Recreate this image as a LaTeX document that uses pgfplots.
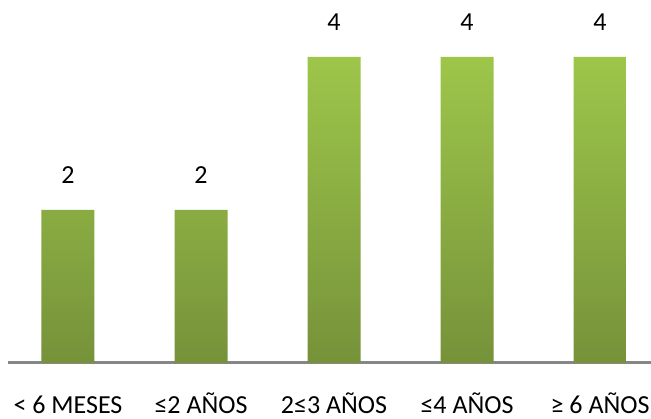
\documentclass[border=0pt]{standalone}
\usepackage{pgfplots}
\pgfplotsset{compat=1.18}
\usepackage{fontspec}
\setmainfont{Carlito}
\definecolor{bartop}{HTML}{9DC64A}
\definecolor{barbot}{HTML}{76923A}
\definecolor{axgray}{HTML}{868686}
\begin{document}
\begin{tikzpicture}[x=1pt,y=1pt]
\useasboundingbox (0,0) rectangle (651,418);
\begin{axis}[
  at={(8pt,55pt)}, anchor=south west,
  scale only axis,
  width=643pt, height=363pt,
  xmin=-0.451, xmax=4.383,
  ymin=0, ymax=4.745,
  ybar, bar width=53pt,
  axis x line*=bottom,
  axis y line=none,
  x axis line style={draw=axgray, line width=3pt, -},
  xtick=data,
  xticklabels={{< 6 MESES},{≤2 AÑOS},{2≤3 AÑOS},{≤4 AÑOS},{≥ 6 AÑOS}},
  major tick length=0pt,
  xticklabel style={anchor=base, inner sep=0pt, yshift=-50pt, font=\fontsize{26}{30}\selectfont, text=black},
  /pgf/number format/assume math mode=true,
  nodes near coords,
  nodes near coords style={anchor=base, inner sep=0pt, yshift=26pt, font=\fontsize{26}{30}\selectfont, text=black},
  clip=false,
]
\addplot[draw=none, top color=bartop, bottom color=barbot] coordinates {(0,2) (1,2) (2,4) (3,4) (4,4)};
\end{axis}
\end{tikzpicture}
\end{document}
